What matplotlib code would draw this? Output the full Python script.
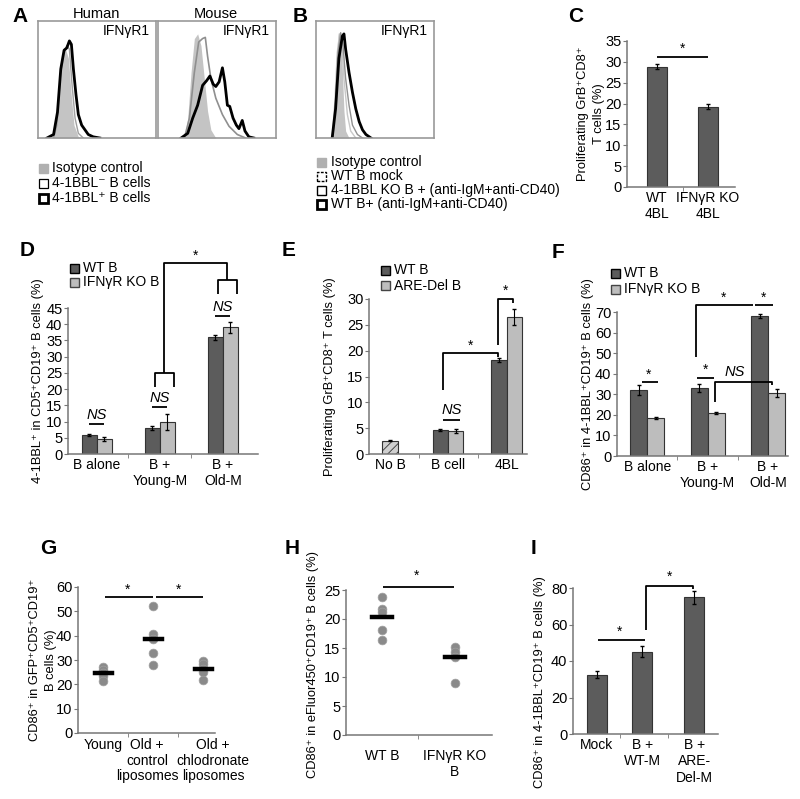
import matplotlib
matplotlib.use('Agg')
import matplotlib.pyplot as plt
from matplotlib.patches import Rectangle
from matplotlib.transforms import blended_transform_factory

plt.rcParams['font.family'] = ['Liberation Sans', 'DejaVu Sans']
plt.rcParams['hatch.color'] = '#9a9a9a'
plt.rcParams['hatch.linewidth'] = 0.6

# ---------------- data ----------------
# A: IFNgR1 histograms (channel position 0-100, % of max)
a_hu_iso_x = [11.8, 14.6, 17.4, 20.2, 23.0, 25.8, 28.0, 30.5, 34.2, 37.0]
a_hu_iso_y = [0, 8, 45, 70, 77, 68, 39, 11, 1, 0]
a_hu_neg_x = [13.2, 16.0, 18.8, 21.6, 24.4, 26.6, 28.9, 31.4, 34.2, 38.4]
a_hu_neg_y = [0, 11, 51, 70, 79, 76, 45, 17, 4, 0]
a_hu_pos_x = [7.6, 13.2, 16.5, 19.3, 22.1, 24.4, 26.6, 28.3, 30.0, 32.2, 34.2, 37.0,
              39.8, 42.6, 46.8, 52.4]
a_hu_pos_y = [0, 3, 22, 59, 75, 77, 83, 80, 59, 37, 20, 11, 7, 3, 1, 0]

a_mo_iso_x = [22.4, 25.2, 28.0, 30.8, 33.6, 36.4, 39.2, 42.0, 44.8, 49.0]
a_mo_iso_y = [0, 17, 56, 85, 89, 79, 51, 23, 7, 0]
a_mo_neg_x = [22.4, 26.6, 30.8, 34.5, 37.8, 40.1, 42.0, 44.8, 49.0, 54.6, 60.2, 67.2, 74.2]
a_mo_neg_y = [0, 17, 56, 82, 85, 86, 70, 51, 34, 20, 10, 3, 0]
a_mo_pos_x = [19.6, 25.2, 29.4, 33.6, 37.8, 41.2, 44.0, 46.8, 49.0, 51.8, 54.6, 56.6,
              58.8, 60.8, 63.6, 66.4, 68.6, 71.4, 73.7, 77.0, 81.2]
a_mo_pos_y = [0, 4, 17, 28, 45, 49, 53, 46, 44, 48, 60, 48, 28, 27, 17, 11, 8, 15, 6, 1, 0]

# B: IFNgR1 histograms
b_iso_x = [13.7, 15.1, 17.1, 18.9, 20.9, 22.3, 23.7, 25.1, 28.0]
b_iso_y = [0, 17, 68, 90, 85, 59, 23, 6, 0]
b_mock_x = [13.7, 16.0, 18.0, 20.0, 21.7, 23.7, 26.6, 29.4, 33.7]
b_mock_y = [0, 31, 73, 89, 82, 51, 20, 6, 0]
b_ko_x = [14.3, 16.6, 18.6, 20.9, 22.9, 25.1, 28.0, 30.9, 35.1, 39.4]
b_ko_y = [0, 31, 73, 90, 79, 51, 28, 11, 3, 0]
b_stim_x = [13.7, 16.6, 19.4, 22.3, 23.7, 25.1, 28.0, 30.9, 33.7, 36.6, 39.4, 42.3, 46.6]
b_stim_y = [0, 25, 68, 87, 89, 76, 56, 39, 25, 14, 7, 3, 0]

# C
c_labels = ['WT\n4BL', 'IFNγR KO\n4BL']
c_vals = [28.8, 19.2]
c_err = [0.6, 0.6]

# D
d_labels = ['B alone', 'B +\nYoung-M', 'B +\nOld-M']
d_wt = [5.8, 8.0, 36.0]
d_wt_err = [0.3, 0.6, 0.8]
d_ko = [4.5, 9.8, 39.0]
d_ko_err = [0.6, 2.4, 1.6]

# E
e_labels = ['No B', 'B cell', '4BL']
e_nob = [2.6]
e_nob_err = [0.1]
e_wt = [4.6, 18.2]
e_wt_err = [0.2, 0.3]
e_are = [4.5, 26.5]
e_are_err = [0.4, 1.5]

# F
f_labels = ['B alone', 'B +\nYoung-M', 'B +\nOld-M']
f_wt = [32.0, 33.0, 68.0]
f_wt_err = [2.3, 2.0, 1.0]
f_ko = [18.7, 21.0, 30.5]
f_ko_err = [0.5, 0.5, 2.0]

# G
g_labels = ['Young', 'Old +\ncontrol\nliposomes', 'Old +\nchlodronate\nliposomes']
g_young = [27.3, 25.8, 24.5, 23.5, 21.5]
g_old_ctrl = [52.2, 40.5, 38.5, 33.0, 27.8]
g_old_chlo = [29.7, 28.3, 26.5, 25.2, 21.8]
g_means = [24.7, 38.6, 26.3]

# H
h_labels = ['WT B', 'IFNγR KO\nB']
h_wt = [23.8, 21.8, 21.2, 18.1, 16.4]
h_ko = [15.2, 14.3, 13.5, 9.0]
h_means = [20.3, 13.4]

# I
i_labels = ['Mock', 'B +\nWT-M', 'B +\nARE-\nDel-M']
i_vals = [32.5, 45.0, 75.0]
i_err = [2.0, 3.0, 3.5]

# ---------------- figure helpers ----------------
W, H = 800, 799
fig = plt.figure(figsize=(8, 7.99), dpi=100)

DARK = '#5c5c5c'
LIGHT = '#bdbdbd'
AX = '#777777'
YL = 9.3  # y label size


def px_axes(l, t, r, b):
    return fig.add_axes([l / W, 1 - b / H, (r - l) / W, (b - t) / H])


def ftext(x, y, s, **kw):
    fig.text(x / W, 1 - y / H, s, **kw)


def ylab(x, y, s):
    ftext(x, y, s, fontsize=YL, rotation=90, ha='center', va='center')


def legend_box(x, y, face, edge, lw=1.0, ls='-'):
    fig.add_artist(Rectangle((x / W, 1 - (y + 4.5) / H), 9 / W, 9 / H,
                             transform=fig.transFigure, facecolor=face,
                             edgecolor=edge, linewidth=lw, linestyle=ls))


def hist_axes(l, t, r, b):
    ax = px_axes(l, t, r, b)
    ax.set_xlim(0, 100)
    ax.set_ylim(0, 100)
    ax.set_xticks([])
    ax.set_yticks([])
    for s in ax.spines.values():
        s.set_color('#999999')
        s.set_linewidth(1.2)
    ax.text(0.95, 0.88, 'IFNγR1', transform=ax.transAxes, ha='right', fontsize=10)
    return ax


def bar_axes(l, t, r, b, xlim, ylim, yticks, minor):
    ax = px_axes(l, t, r, b)
    ax.set_xlim(xlim)
    ax.set_ylim(ylim)
    ax.set_yticks(yticks)
    ax.set_xticks(minor, minor=True)
    for s in ['top', 'right']:
        ax.spines[s].set_visible(False)
    for s in ['left', 'bottom']:
        ax.spines[s].set_color(AX)
        ax.spines[s].set_linewidth(1.1)
    ax.tick_params(axis='y', length=3, labelsize=10.5, pad=1, color=AX)
    ax.tick_params(axis='x', which='major', length=0, labelsize=10, pad=3)
    ax.tick_params(axis='x', which='minor', length=3, color=AX)
    return ax


def bars(ax, pos, vals, errs, width, color, hatch=None):
    ax.bar(pos, vals, width, color=color, edgecolor='#333333', linewidth=0.8, hatch=hatch)
    ax.errorbar(pos, vals, yerr=errs, fmt='none', ecolor='k', elinewidth=0.8, capsize=1.5)


def sig(ax, xs, ys):
    ax.plot(xs, ys, color='k', lw=1.3, clip_on=False, solid_capstyle='butt')


def mark(ax, x, y, s='*', italic=False):
    ax.text(x, y, s, ha='center', va='center', fontsize=10 if s == '*' else 10.5,
            fontstyle='italic' if italic else 'normal', clip_on=False)


# ---------------- A ----------------
ftext(12, 17, 'A', fontsize=15, fontweight='bold', va='center')
ftext(96, 14, 'Human', fontsize=10.5, ha='center', va='center')
ftext(216, 14, 'Mouse', fontsize=10.5, ha='center', va='center')
ax = hist_axes(38, 21, 156, 138)
ax.fill_between(a_hu_iso_x, a_hu_iso_y, color='#c4c4c4', lw=0)
ax.plot(a_hu_neg_x, a_hu_neg_y, color='#a0a0a0', lw=1.0)
ax.plot(a_hu_pos_x, a_hu_pos_y, color='k', lw=2.0)
ax = hist_axes(158, 21, 276, 138)
ax.fill_between(a_mo_iso_x, a_mo_iso_y, color='#c4c4c4', lw=0)
ax.plot(a_mo_neg_x, a_mo_neg_y, color='#8f8f8f', lw=1.2)
ax.plot(a_mo_pos_x, a_mo_pos_y, color='k', lw=2.0)

legend_box(39, 168, '#b0b0b0', '#b0b0b0')
legend_box(39, 183, 'white', 'k', lw=0.9)
legend_box(39, 198, 'white', 'k', lw=2.0)
ftext(52, 168, 'Isotype control', fontsize=10, va='center')
ftext(52, 183, '4-1BBL⁻ B cells', fontsize=10, va='center')
ftext(52, 198, '4-1BBL⁺ B cells', fontsize=10, va='center')

# ---------------- B ----------------
ftext(293, 17, 'B', fontsize=15, fontweight='bold', va='center')
ax = hist_axes(316, 21, 434, 138)
ax.fill_between(b_iso_x, b_iso_y, color='#c4c4c4', lw=0)
ax.plot(b_mock_x, b_mock_y, color='#c8c8c8', lw=1.0)
ax.plot(b_ko_x, b_ko_y, color='#909090', lw=1.0)
ax.plot(b_stim_x, b_stim_y, color='k', lw=2.0)

legend_box(317, 162, '#b0b0b0', '#b0b0b0')
legend_box(317, 176, 'white', 'k', lw=1.0, ls=(0, (2, 1)))
legend_box(317, 190, 'white', 'k', lw=1.0)
legend_box(317, 204, 'white', 'k', lw=2.0)
ftext(331, 162, 'Isotype control', fontsize=10, va='center')
ftext(331, 176, 'WT B mock', fontsize=10, va='center')
ftext(331, 190, '4-1BBL KO B + (anti-IgM+anti-CD40)', fontsize=10, va='center')
ftext(331, 204, 'WT B+ (anti-IgM+anti-CD40)', fontsize=10, va='center')

# ---------------- C ----------------
ftext(568, 17, 'C', fontsize=15, fontweight='bold', va='center')
ax = bar_axes(627, 41, 735, 187, (-0.59, 1.53), (0, 35), range(0, 36, 5), [0.5])
bars(ax, [0, 1], c_vals, c_err, 0.4, DARK)
ax.set_xticks([0, 1])
ax.set_xticklabels(c_labels)
sig(ax, [0, 1], [31.2, 31.2])
mark(ax, 0.5, 33.2)
ylab(583, 114, 'Proliferating GrB⁺CD8⁺')
ylab(599, 114, 'T cells (%)')

# ---------------- D ----------------
ftext(20, 251, 'D', fontsize=15, fontweight='bold', va='center')
ax = bar_axes(68, 308, 258, 454, (-0.46, 2.56), (0, 45), range(0, 46, 5), [0.5, 1.5])
bars(ax, [-0.12, 0.88, 1.88], d_wt, d_wt_err, 0.24, DARK)
bars(ax, [0.12, 1.12, 2.12], d_ko, d_ko_err, 0.24, LIGHT)
ax.set_xticks([0, 1, 2])
ax.set_xticklabels(d_labels)
for x0, yl, yt in [(0, 9.2, 12.0), (1, 14.5, 17.3), (2, 42.5, 45.3)]:
    sig(ax, [x0 - 0.12, x0 + 0.12], [yl, yl])
    mark(ax, x0, yt, 'NS', italic=True)
sig(ax, [0.92, 0.92, 1.22, 1.22], [20.6, 25.0, 25.0, 20.6])
sig(ax, [1.92, 1.92, 2.22, 2.22], [49.3, 53.6, 53.6, 49.3])
sig(ax, [1.07, 1.07, 2.07, 2.07], [25.0, 58.9, 58.9, 53.6])
mark(ax, 1.57, 61.0)
legend_box(70, 268, DARK, 'k')
legend_box(70, 282, LIGHT, '#444444')
ftext(83, 268, 'WT B', fontsize=10, va='center')
ftext(83, 282, 'IFNγR KO B', fontsize=10, va='center')
ylab(38, 381, '4-1BBL⁺ in CD5⁺CD19⁺ B cells (%)')

# ---------------- E ----------------
ftext(282, 251, 'E', fontsize=15, fontweight='bold', va='center')
ax = bar_axes(369, 299, 527, 454, (-0.36, 2.34), (0, 30), range(0, 31, 5), [0.5, 1.5])
bars(ax, [0], e_nob, e_nob_err, 0.27, '#cfcfcf', hatch='////')
bars(ax, [0.86, 1.86], e_wt, e_wt_err, 0.26, DARK)
bars(ax, [1.12, 2.12], e_are, e_are_err, 0.26, LIGHT)
ax.set_xticks([0, 0.99, 1.99])
ax.set_xticklabels(e_labels)
sig(ax, [0.9, 1.2], [6.6, 6.6])
mark(ax, 1.05, 8.6, 'NS', italic=True)
sig(ax, [0.91, 0.91, 1.84, 1.84], [12.4, 19.5, 19.5, 18.7])
mark(ax, 1.37, 20.9)
sig(ax, [1.84, 1.84, 2.1, 2.1], [21.1, 30.0, 30.0, 29.2])
mark(ax, 1.97, 31.6)
legend_box(381, 270, DARK, 'k')
legend_box(381, 286, LIGHT, '#444444')
ftext(394, 270, 'WT B', fontsize=10, va='center')
ftext(394, 286, 'ARE-Del B', fontsize=10, va='center')
ylab(330, 377, 'Proliferating GrB⁺CD8⁺ T cells (%)')

# ---------------- F ----------------
ftext(552, 252, 'F', fontsize=15, fontweight='bold', va='center')
ax = bar_axes(617, 312, 788, 456, (-0.5, 2.33), (0, 70), range(0, 71, 10), [0.5, 1.5])
bars(ax, [-0.14, 0.86, 1.86], f_wt, f_wt_err, 0.28, DARK)
bars(ax, [0.14, 1.14, 2.14], f_ko, f_ko_err, 0.28, LIGHT)
ax.set_xticks([0, 1, 2])
ax.set_xticklabels(f_labels)
sig(ax, [-0.08, 0.18], [36.0, 36.0])
mark(ax, 0.02, 39.6)
sig(ax, [0.83, 1.1], [37.9, 37.9])
mark(ax, 0.96, 41.8)
sig(ax, [1.12, 1.12, 2.07, 2.07], [26.3, 36.0, 36.0, 34.5])
mark(ax, 1.45, 40.8, 'NS', italic=True)
sig(ax, [0.81, 0.81, 1.75], [48.1, 73.4, 73.4])
mark(ax, 1.27, 77.0)
sig(ax, [1.79, 2.08], [73.4, 73.4])
mark(ax, 1.93, 77.0)
legend_box(611, 273, DARK, 'k')
legend_box(611, 289, LIGHT, '#444444')
ftext(624, 273, 'WT B', fontsize=10, va='center')
ftext(624, 289, 'IFNγR KO B', fontsize=10, va='center')
ylab(588, 384, 'CD86⁺ in 4-1BBL⁺CD19⁺ B cells (%)')

# ---------------- G ----------------
ftext(40, 548, 'G', fontsize=15, fontweight='bold', va='center')
ax = bar_axes(78, 587, 215, 733, (-0.5, 2.24), (0, 60), range(0, 61, 10), [0.5, 1.5])
for i, pts in enumerate([g_young, g_old_ctrl, g_old_chlo]):
    ax.scatter([i] * len(pts), pts, s=40, color='#8a8a8a', edgecolor='#a0a0a0',
               linewidth=0.5, zorder=3)
    ax.plot([i - 0.17, i + 0.17], [g_means[i]] * 2, color='k', lw=3.2, zorder=4)
ax.set_xticks([])
# category labels written line by line so neighbouring labels sit side by side
trans = blended_transform_factory(ax.transData, ax.transAxes)
for xpos, lab in zip([0, 0.88, 2.2], g_labels):
    for k, line in enumerate(lab.split('\n')):
        ax.text(xpos, -0.035 - k * 0.107, line, transform=trans, ha='center', va='top',
                fontsize=10)
sig(ax, [0.04, 1.0], [55.9, 55.9])
sig(ax, [1.06, 2.0], [55.9, 55.9])
mark(ax, 0.5, 59.0)
mark(ax, 1.52, 59.0)
ylab(35, 660, 'CD86⁺ in GFP⁺CD5⁺CD19⁺')
ylab(51, 660, 'B cells (%)')

# ---------------- H ----------------
ftext(285, 548, 'H', fontsize=15, fontweight='bold', va='center')
ax = bar_axes(346, 590, 492, 735, (-0.49, 1.51), (0, 25), range(0, 26, 5), [0.5])
for i, pts in enumerate([h_wt, h_ko]):
    ax.scatter([i] * len(pts), pts, s=40, color='#8a8a8a', edgecolor='#a0a0a0',
               linewidth=0.5, zorder=3)
    ax.plot([i - 0.14, i + 0.14], [h_means[i]] * 2, color='k', lw=3.2, zorder=4)
ax.set_xticks([0, 1])
ax.set_xticklabels(h_labels)
ax.tick_params(axis='x', which='major', pad=10)
sig(ax, [0.01, 0.99], [25.6, 25.6])
mark(ax, 0.47, 27.5)
ylab(313, 665, 'CD86⁺ in eFluor450⁺CD19⁺ B cells (%)')

# ---------------- I ----------------
ftext(531, 548, 'I', fontsize=15, fontweight='bold', va='center')
ax = bar_axes(573, 588, 718, 734, (-0.49, 2.49), (0, 80), range(0, 81, 20), [0.47, 1.47])
bars(ax, [0, 0.93, 2.0], i_vals, i_err, 0.41, DARK)
ax.set_xticks([0, 0.93, 2.0])
ax.set_xticklabels(i_labels)
sig(ax, [0.02, 0.99], [51.5, 51.5])
mark(ax, 0.47, 56.0)
sig(ax, [1.01, 1.01, 1.98, 1.98], [57.0, 81.1, 81.1, 79.5])
mark(ax, 1.5, 86.0)
ylab(540, 682, 'CD86⁺ in 4-1BBL⁺CD19⁺ B cells (%)')

fig.savefig('out.png', dpi=100)
